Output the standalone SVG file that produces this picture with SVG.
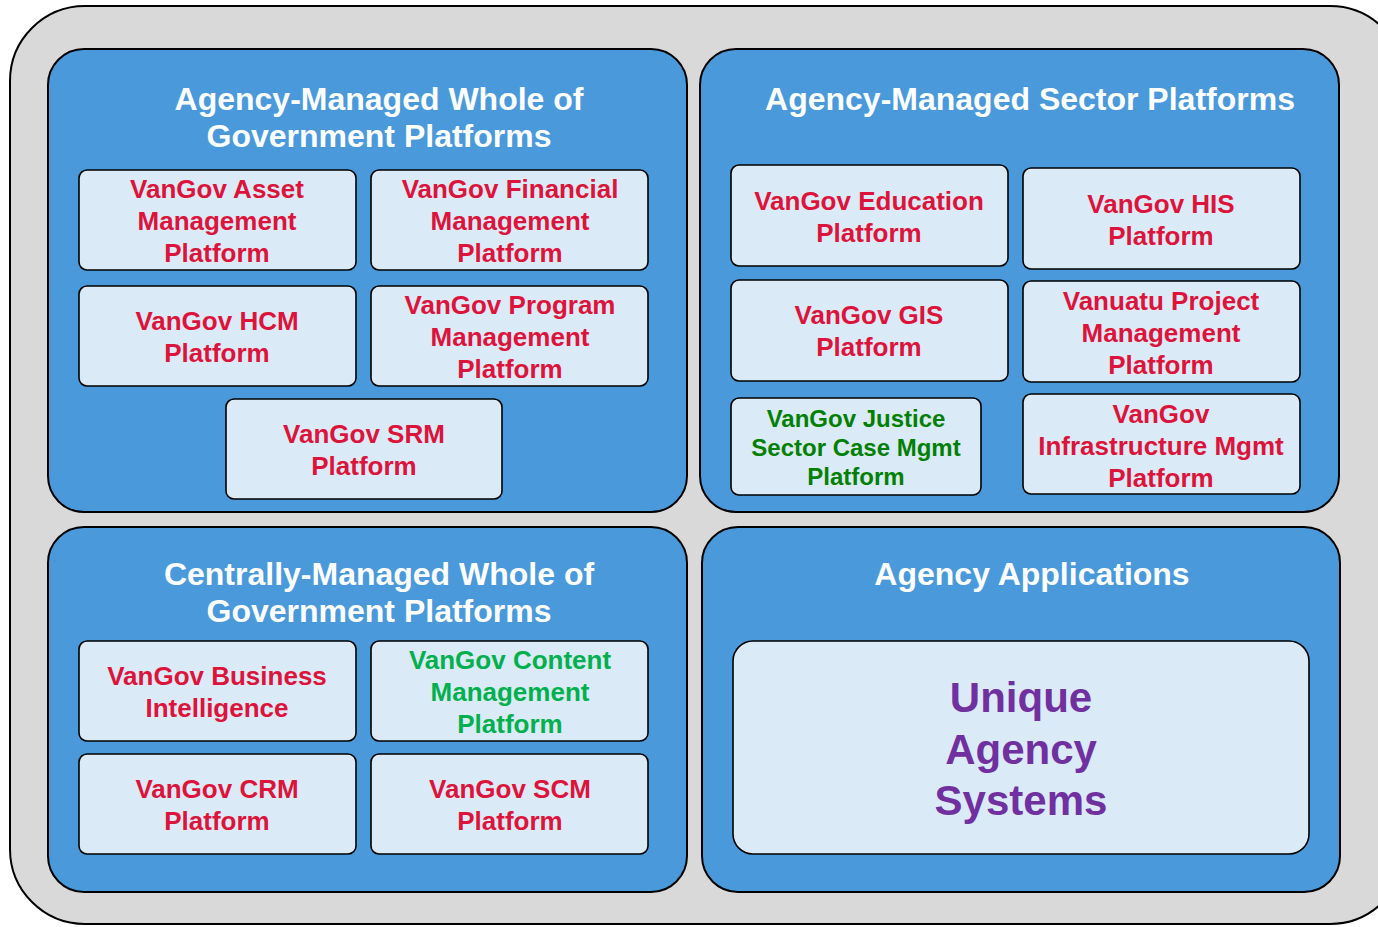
<svg xmlns="http://www.w3.org/2000/svg" width="1378" height="927" viewBox="0 0 1378 927">
<style>
.outer{fill:#D9D9D9;stroke:#000;stroke-width:2}
.panel{fill:#4A9ADB;stroke:#000;stroke-width:2}
.box{fill:#DBEAF7;stroke:#000;stroke-width:1.6}
text{font-family:"Liberation Sans",Arial,sans-serif;font-weight:bold;text-anchor:middle}
.title{fill:#fff;font-size:32px}
.lbl{fill:#DC143C;font-size:26px}
.grn{fill:#00B04F;font-size:26px}
.jgrn{fill:#008000;font-size:24px}
.big{fill:#7030A0;font-size:42px}
</style>
<rect class="outer" x="10" y="6" width="1395" height="918" rx="75"/>
<g id="panel-agency-wog">
<rect class="panel" x="48" y="49" width="639" height="463" rx="36"/>
<text class="title" x="379" y="110">Agency-Managed Whole of</text>
<text class="title" x="379" y="147">Government Platforms</text>
</g>
<g id="panel-sector">
<rect class="panel" x="700" y="49" width="639" height="463" rx="36"/>
<text class="title" x="1030" y="110">Agency-Managed Sector Platforms</text>
</g>
<g id="panel-central">
<rect class="panel" x="48" y="527" width="639" height="365" rx="36"/>
<text class="title" x="379" y="585">Centrally-Managed Whole of</text>
<text class="title" x="379" y="622">Government Platforms</text>
</g>
<g id="panel-apps">
<rect class="panel" x="702" y="527" width="638" height="365" rx="36"/>
<text class="title" x="1032" y="585">Agency Applications</text>
</g>
<g id="asset"><rect class="box" x="79" y="170" width="277" height="100" rx="8"/>
<text class="lbl" x="217" y="198">VanGov Asset</text><text class="lbl" x="217" y="230">Management</text><text class="lbl" x="217" y="262">Platform</text></g>
<g id="financial"><rect class="box" x="371" y="170" width="277" height="100" rx="8"/>
<text class="lbl" x="510" y="198">VanGov Financial</text><text class="lbl" x="510" y="230">Management</text><text class="lbl" x="510" y="262">Platform</text></g>
<g id="hcm"><rect class="box" x="79" y="286" width="277" height="100" rx="8"/>
<text class="lbl" x="217" y="330">VanGov HCM</text><text class="lbl" x="217" y="362">Platform</text></g>
<g id="program"><rect class="box" x="371" y="286" width="277" height="100" rx="8"/>
<text class="lbl" x="510" y="314">VanGov Program</text><text class="lbl" x="510" y="346">Management</text><text class="lbl" x="510" y="378">Platform</text></g>
<g id="srm"><rect class="box" x="226" y="399" width="276" height="100" rx="8"/>
<text class="lbl" x="364" y="443">VanGov SRM</text><text class="lbl" x="364" y="475">Platform</text></g>
<g id="education"><rect class="box" x="731" y="165" width="277" height="101" rx="8"/>
<text class="lbl" x="869" y="210">VanGov Education</text><text class="lbl" x="869" y="242">Platform</text></g>
<g id="his"><rect class="box" x="1023" y="168" width="277" height="101" rx="8"/>
<text class="lbl" x="1161" y="213">VanGov HIS</text><text class="lbl" x="1161" y="245">Platform</text></g>
<g id="gis"><rect class="box" x="731" y="280" width="277" height="101" rx="8"/>
<text class="lbl" x="869" y="324">VanGov GIS</text><text class="lbl" x="869" y="356">Platform</text></g>
<g id="vpm"><rect class="box" x="1023" y="281" width="277" height="101" rx="8"/>
<text class="lbl" x="1161" y="310">Vanuatu Project</text><text class="lbl" x="1161" y="342">Management</text><text class="lbl" x="1161" y="374">Platform</text></g>
<g id="justice"><rect class="box" x="731" y="398" width="250" height="97" rx="8"/>
<text class="jgrn" x="856" y="427">VanGov Justice</text><text class="jgrn" x="856" y="456">Sector Case Mgmt</text><text class="jgrn" x="856" y="485">Platform</text></g>
<g id="infra"><rect class="box" x="1023" y="394" width="277" height="100" rx="8"/>
<text class="lbl" x="1161" y="423">VanGov</text><text class="lbl" x="1161" y="455">Infrastructure Mgmt</text><text class="lbl" x="1161" y="487">Platform</text></g>
<g id="bi"><rect class="box" x="79" y="641" width="277" height="100" rx="8"/>
<text class="lbl" x="217" y="685">VanGov Business</text><text class="lbl" x="217" y="717">Intelligence</text></g>
<g id="content"><rect class="box" x="371" y="641" width="277" height="100" rx="8"/>
<text class="grn" x="510" y="669">VanGov Content</text><text class="grn" x="510" y="701">Management</text><text class="grn" x="510" y="733">Platform</text></g>
<g id="crm"><rect class="box" x="79" y="754" width="277" height="100" rx="8"/>
<text class="lbl" x="217" y="798">VanGov CRM</text><text class="lbl" x="217" y="830">Platform</text></g>
<g id="scm"><rect class="box" x="371" y="754" width="277" height="100" rx="8"/>
<text class="lbl" x="510" y="798">VanGov SCM</text><text class="lbl" x="510" y="830">Platform</text></g>
<g id="unique"><rect class="box" x="733" y="641" width="576" height="213" rx="20"/>
<text class="big" x="1021" y="712">Unique</text><text class="big" x="1021" y="764">Agency</text><text class="big" x="1021" y="815">Systems</text></g>
<g id="connectors"></g>
</svg>
